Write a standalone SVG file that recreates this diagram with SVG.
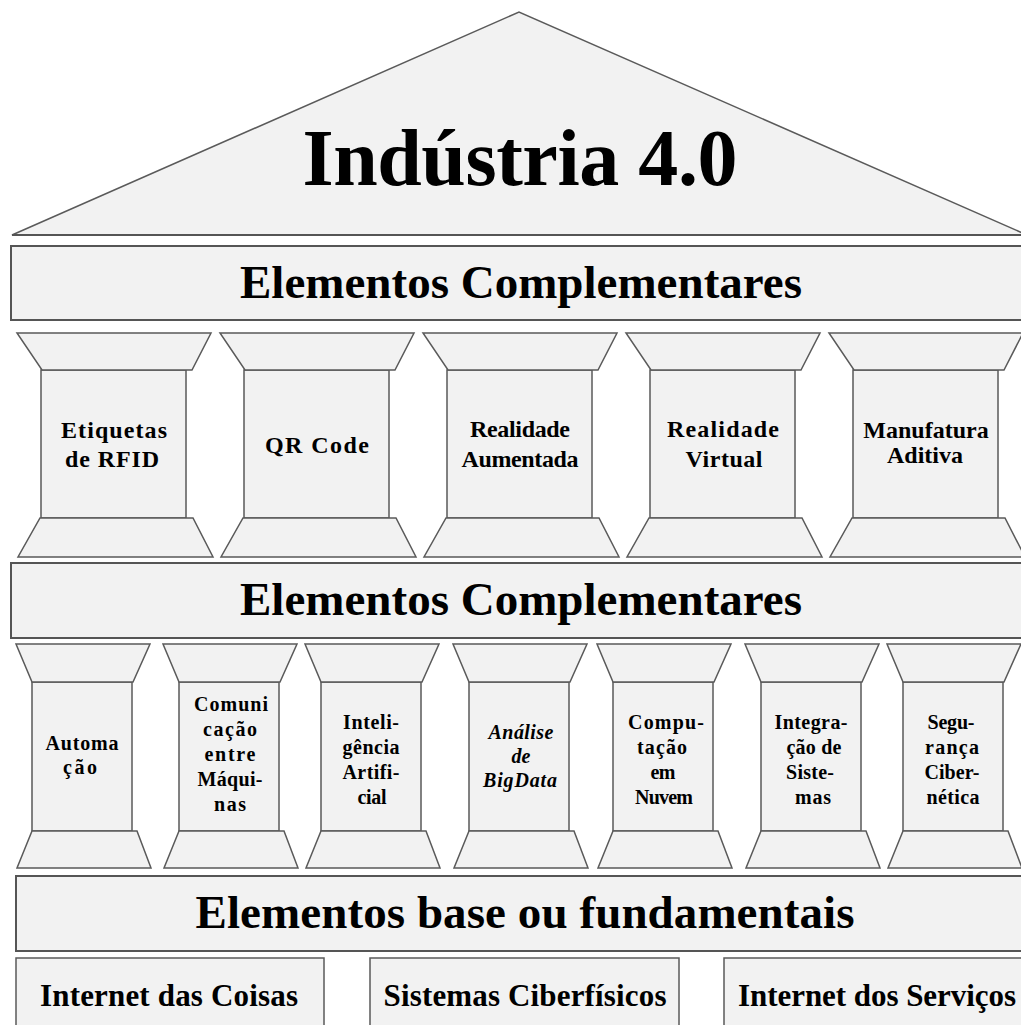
<svg xmlns="http://www.w3.org/2000/svg" xmlns:xlink="http://www.w3.org/1999/xlink" width="1021" height="1025" viewBox="0 0 1021 1025">
  <style>
    .shape { fill: #f2f2f2; stroke: #5a5a5a; stroke-width: 1.5; stroke-linejoin: miter; }
    .band { fill: #f2f2f2; stroke: #555555; stroke-width: 2; }
    .t { font-family: "Liberation Serif", "Times New Roman", serif; font-weight: bold; fill: #000; text-anchor: middle; }
    .title { font-size: 80px; }
    .head { font-size: 47px; }
    .base { font-size: 31px; }
    .up { font-size: 24px; }
    .low { font-size: 20px; }
    .it { font-style: italic; }
  </style>
  <defs>
    <!-- upper column: capital, shaft, foot (x origin = left end of capital) -->
    <g id="col-upper">
      <rect class="shape" x="24" y="370" width="145" height="148"/>
      <polygon class="shape" points="0,333 194,333 175,370 25,370"/>
      <polygon class="shape" points="23,518 176,518 196,557 1,557"/>
    </g>
    <!-- lower column -->
    <g id="col-lower">
      <rect class="shape" x="16" y="682" width="100" height="149"/>
      <polygon class="shape" points="0,644 134,644 117,682 16,682"/>
      <polygon class="shape" points="16,831 121,831 135,868 1,868"/>
    </g>
  </defs>

  <rect width="1021" height="1025" fill="#ffffff"/>

  <!-- roof -->
  <g id="roof">
    <polygon class="shape" points="12,235 519,12 1027,235"/>
    <line x1="12" y1="235" x2="1027" y2="235" stroke="#555555" stroke-width="2"/>
    <text class="t title" x="520" y="185" textLength="435">Indústria 4.0</text>
  </g>

  <!-- upper beam -->
  <g id="band-complementares-1">
    <rect class="band" x="11" y="246" width="1020" height="74"/>
    <text class="t head" x="521" y="298" textLength="562">Elementos Complementares</text>
  </g>

  <!-- upper columns -->
  <g id="col-rfid">
    <use xlink:href="#col-upper" x="17"/>
    <text class="t up" x="114" y="438" textLength="106">Etiquetas</text>
    <text class="t up" x="112" y="467" textLength="94">de RFID</text>
  </g>
  <g id="col-qrcode">
    <use xlink:href="#col-upper" x="220"/>
    <text class="t up" x="317" y="453" textLength="104">QR Code</text>
  </g>
  <g id="col-realidade-aumentada">
    <use xlink:href="#col-upper" x="423"/>
    <text class="t up" x="520" y="437" font-size="22" textLength="100">Realidade</text>
    <text class="t up" x="520" y="467" font-size="22" textLength="117">Aumentada</text>
  </g>
  <g id="col-realidade-virtual">
    <use xlink:href="#col-upper" x="626"/>
    <text class="t up" x="723" y="437" font-size="25" textLength="112">Realidade</text>
    <text class="t up" x="724" y="467" font-size="25" textLength="77">Virtual</text>
  </g>
  <g id="col-manufatura">
    <use xlink:href="#col-upper" x="829"/>
    <text class="t up" x="926" y="438" font-size="18.5">Manufatura</text>
    <text class="t up" x="925" y="463" font-size="18.5">Aditiva</text>
  </g>

  <!-- middle beam -->
  <g id="band-complementares-2">
    <rect class="band" x="11" y="563" width="1020" height="75"/>
    <text class="t head" x="521" y="615" textLength="562">Elementos Complementares</text>
  </g>

  <!-- lower columns -->
  <g id="col-automacao">
    <use xlink:href="#col-lower" x="16"/>
    <text class="t low" x="82" y="750" textLength="73">Automa</text>
    <text class="t low" x="80" y="774" textLength="34">ção</text>
  </g>
  <g id="col-m2m">
    <use xlink:href="#col-lower" x="163"/>
    <text class="t low" x="231" y="711" textLength="74">Comuni</text>
    <text class="t low" x="230" y="736" textLength="54">cação</text>
    <text class="t low" x="230" y="761" textLength="51">entre</text>
    <text class="t low" x="230" y="786" textLength="65">Máqui-</text>
    <text class="t low" x="230" y="811" textLength="32">nas</text>
  </g>
  <g id="col-ia">
    <use xlink:href="#col-lower" x="305"/>
    <text class="t low" x="371" y="729" textLength="56">Inteli-</text>
    <text class="t low" x="371" y="754" textLength="57">gência</text>
    <text class="t low" x="371" y="779" textLength="57">Artifi-</text>
    <text class="t low" x="372" y="804" textLength="29">cial</text>
  </g>
  <g id="col-bigdata">
    <use xlink:href="#col-lower" x="453"/>
    <text class="t low it" x="521" y="739" textLength="65">Análise</text>
    <text class="t low it" x="521" y="763">de</text>
    <text class="t low it" x="520" y="787" textLength="74">BigData</text>
  </g>
  <g id="col-nuvem">
    <use xlink:href="#col-lower" x="597"/>
    <text class="t low" x="666" y="729" textLength="76">Compu-</text>
    <text class="t low" x="662" y="754" textLength="50">tação</text>
    <text class="t low" x="663" y="779" textLength="25">em</text>
    <text class="t low" x="664" y="804" textLength="58">Nuvem</text>
  </g>
  <g id="col-integracao">
    <use xlink:href="#col-lower" x="745"/>
    <text class="t low" x="811" y="729" textLength="73">Integra-</text>
    <text class="t low" x="814" y="754" textLength="55">ção de</text>
    <text class="t low" x="810" y="779" textLength="48">Siste-</text>
    <text class="t low" x="813" y="804" textLength="36">mas</text>
  </g>
  <g id="col-seguranca">
    <use xlink:href="#col-lower" x="887"/>
    <text class="t low" x="951" y="729" textLength="47">Segu-</text>
    <text class="t low" x="952" y="754" textLength="54">rança</text>
    <text class="t low" x="952" y="779" textLength="55">Ciber-</text>
    <text class="t low" x="953" y="804" textLength="53">nética</text>
  </g>

  <!-- foundation beam -->
  <g id="band-base">
    <rect class="band" x="16" y="876" width="1015" height="75"/>
    <text class="t head" x="525" y="928" textLength="659">Elementos base ou fundamentais</text>
  </g>

  <!-- foundation blocks -->
  <g id="base-iot">
    <rect class="shape" x="16" y="958" width="308" height="80"/>
    <text class="t base" x="169" y="1006" textLength="258">Internet das Coisas</text>
  </g>
  <g id="base-cps">
    <rect class="shape" x="370" y="958" width="309" height="80"/>
    <text class="t base" x="525" y="1006" textLength="283">Sistemas Ciberfísicos</text>
  </g>
  <g id="base-ios">
    <rect class="shape" x="724" y="958" width="320" height="80"/>
    <text class="t base" x="877" y="1006" textLength="278">Internet dos Serviços</text>
  </g>
</svg>
